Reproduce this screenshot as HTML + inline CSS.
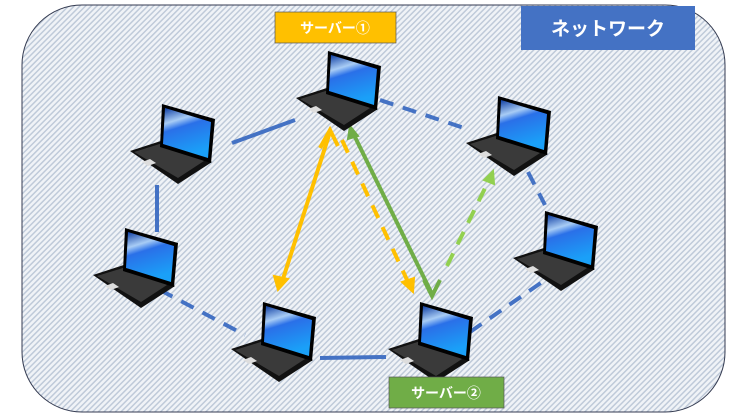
<!DOCTYPE html>
<html><head><meta charset="utf-8"><style>
body{margin:0;width:735px;height:417px;overflow:hidden;background:#fff}
svg{display:block}
text{font-family:"Liberation Sans","Noto Sans CJK JP",sans-serif;font-weight:bold;fill:#fff}
</style></head><body>
<svg width="735" height="417" viewBox="0 0 735 417" xmlns="http://www.w3.org/2000/svg">
<defs>
<pattern id="h" width="4" height="4" patternUnits="userSpaceOnUse" patternTransform="rotate(45)">
<rect width="4" height="4" fill="#f0f3f7"/><rect width="1.5" height="4" fill="#bfcad9"/>
</pattern>
<linearGradient id="sc" x1="0" y1="0" x2="0.3" y2="1">
<stop offset="0" stop-color="#0a3aa0"/><stop offset="0.3" stop-color="#a8ccf5"/><stop offset="0.45" stop-color="#2a70e8"/><stop offset="1" stop-color="#1aa0f8"/></linearGradient>
<g id="lp">
<polygon points="8,53 45,41 90,64 56,86" fill="#111"/>
<polygon points="12,54 44,44 82,63 56,80" fill="#3a3a3a"/>
<polygon points="20,64 28,61 34,65 26,68" fill="#ddd"/>
<polygon points="40,6 93,21 89,65 38,49" fill="#000"/>
<polygon points="43,10 89,24 86,60 41,46" fill="url(#sc)"/>
</g>
</defs>
<rect x="22" y="5" width="703" height="407" rx="60" fill="url(#h)" stroke="#333a50" stroke-width="1"/>
<g stroke="#4472c4" stroke-width="4" fill="none">
<line x1="232" y1="143" x2="295" y2="120"/>
<line x1="157" y1="185" x2="157" y2="232"/>
<line x1="320" y1="358" x2="386" y2="357"/>
<g stroke-dasharray="14,10">
<line x1="380" y1="100" x2="470" y2="130"/>
<line x1="160" y1="290" x2="245" y2="335"/>
<line x1="470" y1="332" x2="545" y2="280"/>
<line x1="528" y1="172" x2="545" y2="205"/>
</g></g>
<g stroke-width="4" fill="none">
<line x1="330" y1="132" x2="282" y2="282" stroke="#ffc000"/>
<polyline points="320,148 330,130 338,146" stroke="#ffc000"/>
<polygon points="278,290 274,276 288,279" fill="#ffc000" stroke="#ffc000" stroke-width="2"/>
<line x1="342" y1="140" x2="408" y2="282" stroke="#ffc000" stroke-dasharray="14,10"/>
<polygon points="413,292 402,282 414,278" fill="#ffc000" stroke="#ffc000" stroke-width="2"/>
<line x1="432" y1="294" x2="354" y2="135" stroke="#70ad47"/>
<polygon points="350,126 358,136 348,139" fill="#70ad47" stroke="#70ad47" stroke-width="2"/>
<polyline points="424,280 432,296 440,280" stroke="#70ad47"/>
<line x1="447" y1="266" x2="489" y2="180" stroke="#92d050" stroke-dasharray="14,10"/>
<polygon points="493,171 494,184 484,180" fill="#92d050" stroke="#92d050" stroke-width="2"/>
</g>
<use href="#lp" x="288" y="45"/>
<use href="#lp" x="122" y="98"/>
<use href="#lp" x="85" y="222"/>
<use href="#lp" x="223" y="296"/>
<use href="#lp" x="380" y="296"/>
<use href="#lp" x="458" y="90"/>
<use href="#lp" x="505" y="205"/>
<rect x="275" y="12" width="121" height="31" fill="#ffc000" stroke="#555" stroke-width="0.7"/>
<text x="335" y="33" font-size="14" text-anchor="middle">サーバー①</text>
<rect x="521" y="6" width="174" height="44" fill="#4472c4"/>
<text x="608" y="35" font-size="19" text-anchor="middle">ネットワーク</text>
<rect x="389" y="377" width="115" height="31" fill="#70ad47" stroke="#555" stroke-width="0.7"/>
<text x="446" y="398" font-size="14" text-anchor="middle">サーバー②</text>
</svg>
</body></html>
